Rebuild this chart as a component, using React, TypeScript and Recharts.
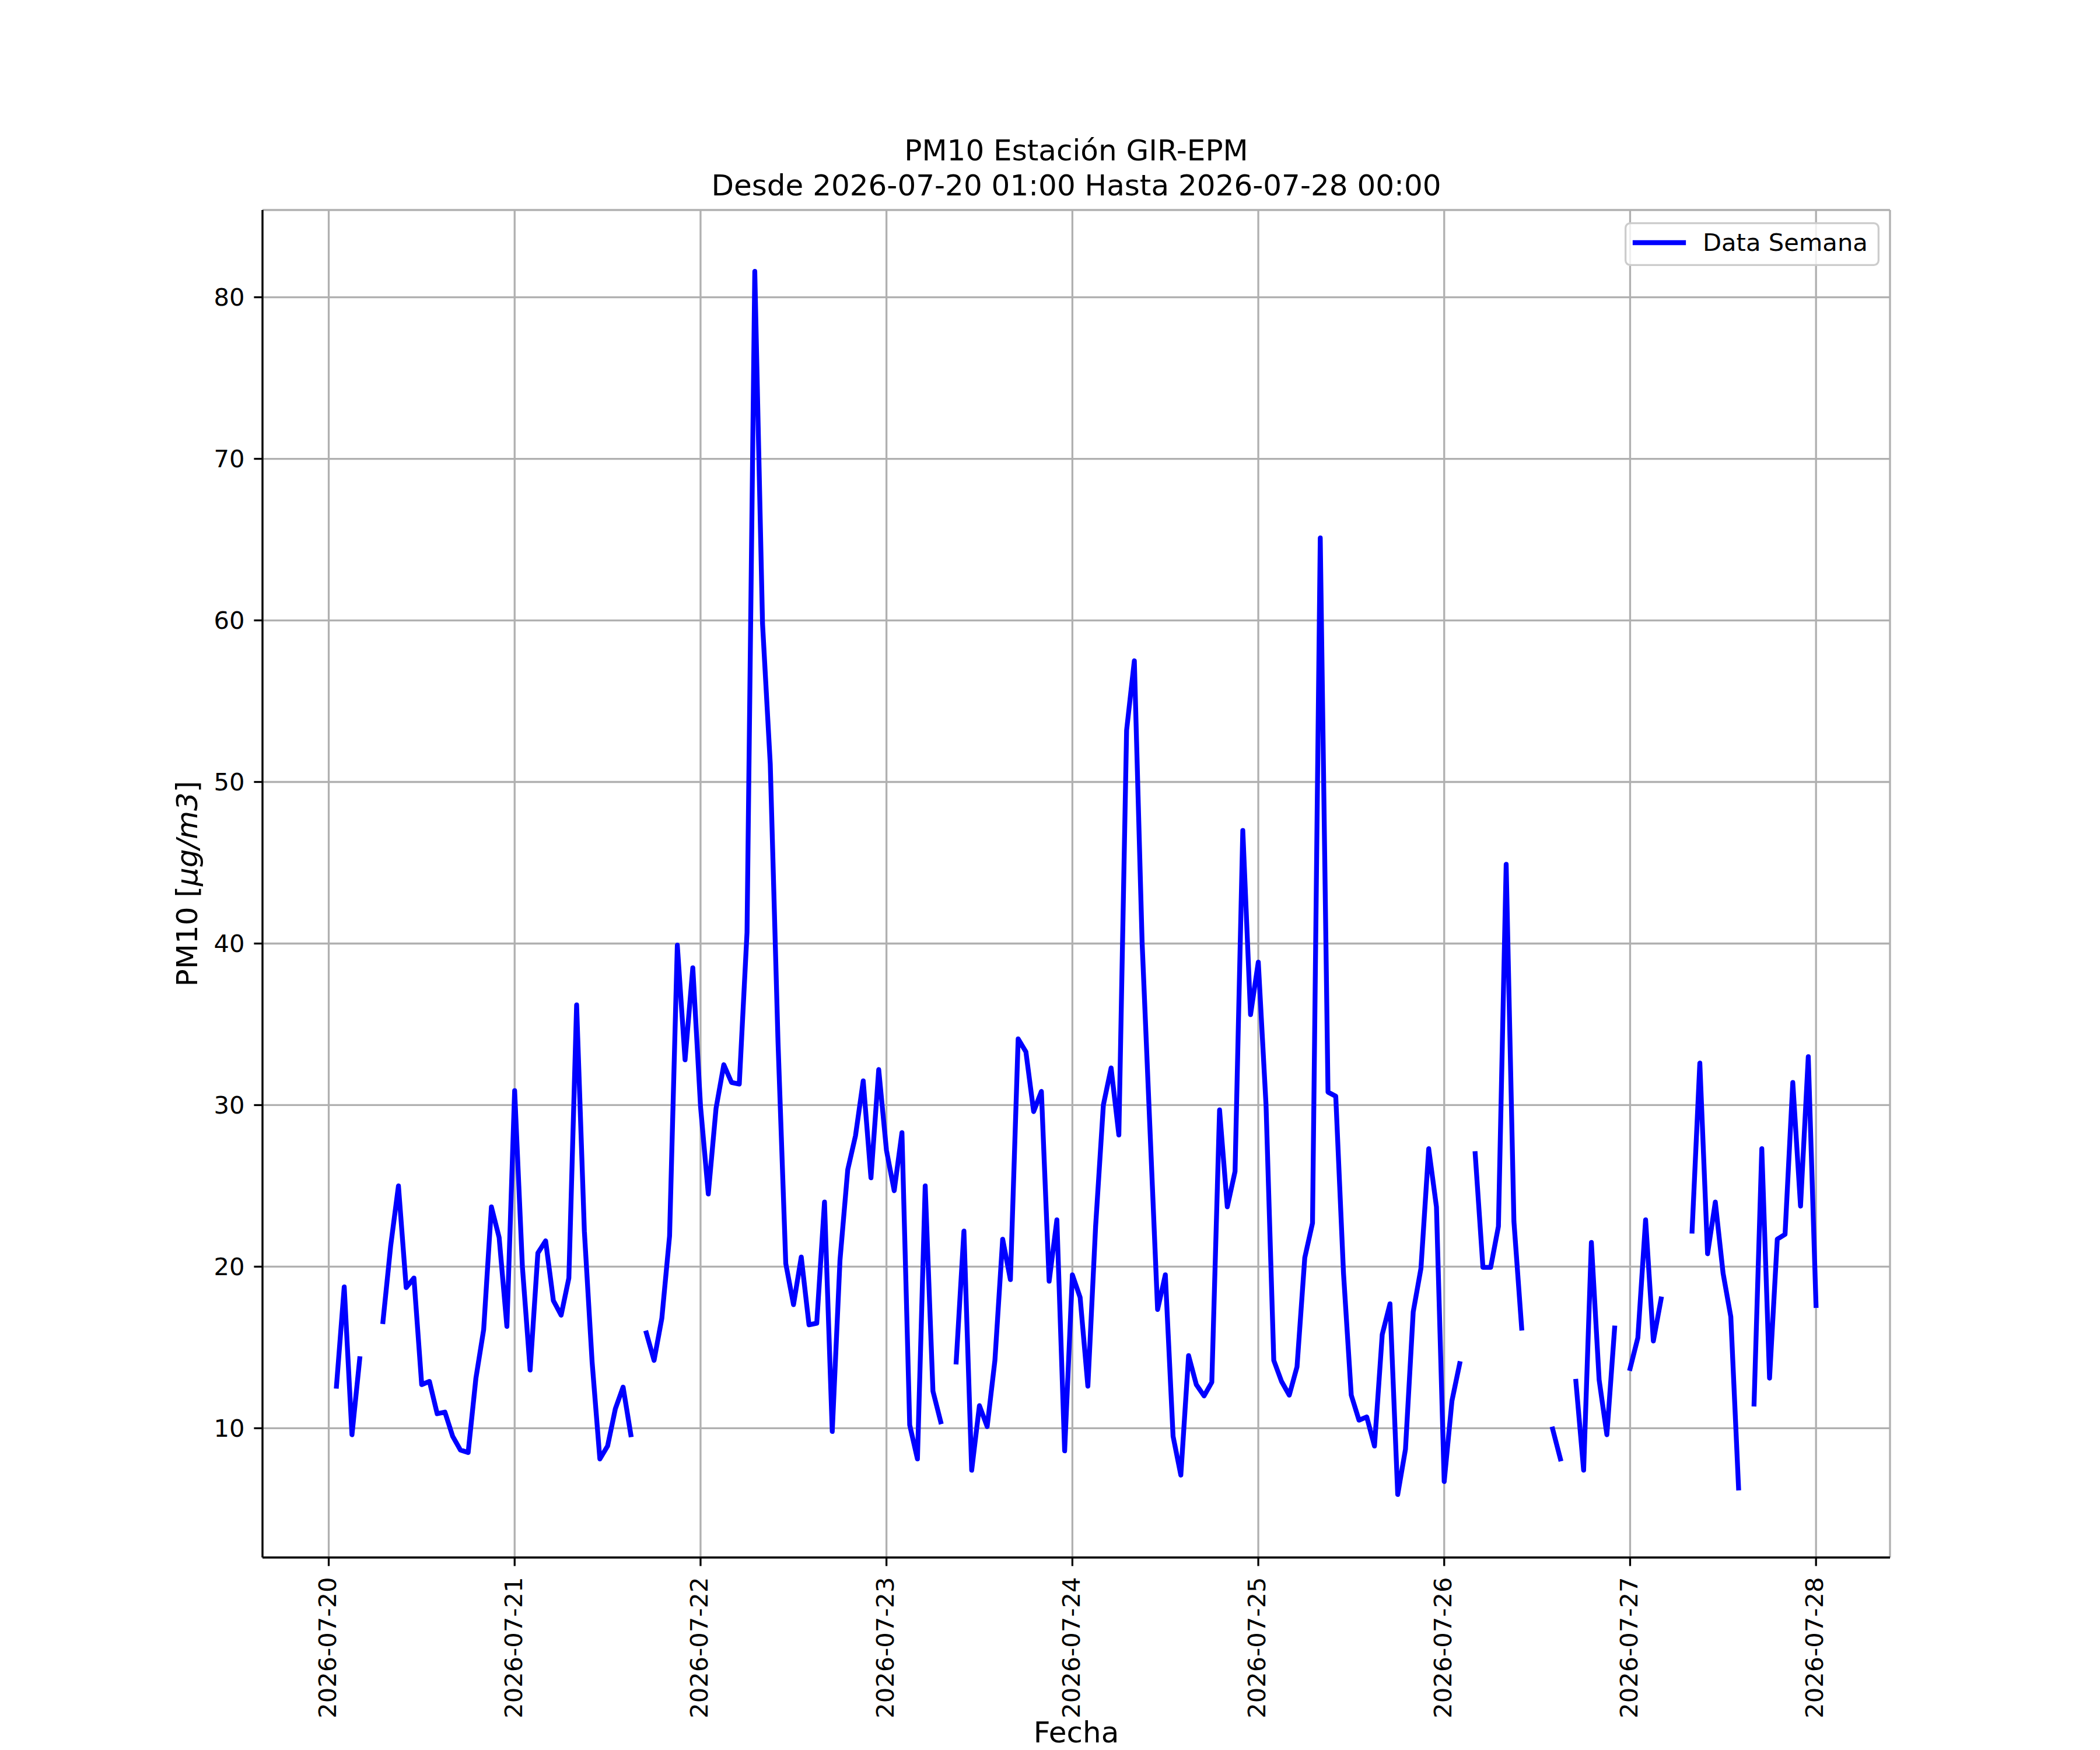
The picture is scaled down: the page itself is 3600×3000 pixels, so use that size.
import { LineChart, Line, XAxis, YAxis, CartesianGrid, Legend, Label } from 'recharts';

// PM10 hourly values, one array per day (01:00 .. 00:00 of next day); null = no data
const d20 = [12.6, 18.75, 9.6, 14.3, null, null, 16.6, 21.3, 25.0, 18.7, 19.3, 12.7, 12.9, 10.9, 11.0, 9.5, 8.65, 8.5, 13.1, 16.1, 23.7, 21.8, 16.3, 30.9];
const d21 = [20.0, 13.6, 20.85, 21.6, 17.9, 17.0, 19.3, 36.2, 22.2, 14.1, 8.1, 8.9, 11.2, 12.55, 9.6, null, 15.9, 14.2, 16.8, 21.9, 39.9, 32.8, 38.5, 29.9];
const d22 = [24.5, 29.8, 32.5, 31.4, 31.3, 40.7, 81.6, 59.8, 51.1, 33.9, 20.2, 17.65, 20.6, 16.4, 16.5, 24.0, 9.8, 20.4, 26.0, 28.1, 31.5, 25.5, 32.2, 27.2];
const d23 = [24.7, 28.3, 10.2, 8.1, 25.0, 12.3, 10.4, null, 14.1, 22.2, 7.4, 11.4, 10.1, 14.2, 21.7, 19.2, 34.1, 33.3, 29.6, 30.85, 19.1, 22.9, 8.6, 19.5];
const d24 = [18.1, 12.6, 22.5, 30.0, 32.3, 28.15, 53.2, 57.5, 40.1, 28.7, 17.35, 19.5, 9.5, 7.1, 14.5, 12.7, 12.0, 12.85, 29.7, 23.7, 25.9, 47.0, 35.6, 38.85];
const d25 = [30.0, 14.2, 12.9, 12.05, 13.8, 20.55, 22.7, 65.1, 30.8, 30.55, 19.6, 12.05, 10.5, 10.7, 8.9, 15.8, 17.7, 5.9, 8.7, 17.2, 19.9, 27.3, 23.7, 6.7];
const d26 = [11.7, 14.0, null, 27.0, 19.96, 19.96, 22.5, 44.9, 22.8, 16.2, null, null, null, 9.95, 8.1, null, 12.9, 7.4, 21.5, 13.0, 9.6, 16.2, null, 13.7];
const d27 = [15.6, 22.9, 15.4, 18.0, null, null, null, 22.2, 32.6, 20.8, 24.0, 19.6, 16.9, 6.3, null, 11.5, 27.3, 13.1, 21.7, 22.0, 31.4, 23.75, 33.0, 17.6];

const dias = ['2026-07-20', '2026-07-21', '2026-07-22', '2026-07-23', '2026-07-24', '2026-07-25', '2026-07-26', '2026-07-27', '2026-07-28'];
const yTicks = [10, 20, 30, 40, 50, 60, 70, 80];

const semana = [d20, d21, d22, d23, d24, d25, d26, d27];
// x = hours since 2026-07-20 00:00
const data = semana.flat().map((v, i) => ({ h: i + 1, pm10: v }));
const xTicks = dias.map((_, i) => i * 24);

const FONT = 'DejaVu Sans';
const xDomain = [-8.55, 201.55];
const yDomain = [2.0, 85.4];
const spine = { stroke: '#000', strokeWidth: 3.3 };

const DateTick = (props: any) => {
  const { x, y, payload } = props;
  return (
    <text x={x} y={y} dy={12.3} transform={`rotate(-90 ${x} ${y})`} textAnchor="end"
      fontSize={41.67} fontFamily={FONT} fill="#000">
      {dias[Math.round(payload.value / 24)]}
    </text>
  );
};

// title sits above the plot box (plot spans x 450..3240, top at 360)
const Titulo = () => (
  <text textAnchor="middle" fontSize={50} fontFamily={FONT} fill="#000">
    <tspan x={1845} y={275}>PM10 Estación GIR-EPM</tspan>
    <tspan x={1845} y={335}>Desde 2026-07-20 01:00 Hasta 2026-07-28 00:00</tspan>
  </text>
);

const Fecha = (props: any) => {
  const vb = props.viewBox || { x: 450, y: 2670, width: 2790 };
  return (
    <text x={vb.x + vb.width / 2} y={vb.y + 317} textAnchor="middle" fontSize={50} fontFamily={FONT} fill="#000">
      Fecha
    </text>
  );
};

const YLabel = (props: any) => {
  const vb = props.viewBox || { x: 350, y: 360, height: 2310 };
  const x = vb.x - 12;
  const y = vb.y + vb.height / 2;
  return (
    <text x={x} y={y} transform={`rotate(-90 ${x} ${y})`} textAnchor="middle" fontSize={50} fontFamily={FONT} fill="#000">
      <tspan>PM10 [</tspan>
      <tspan fontStyle="italic">μg/m3</tspan>
      <tspan>]</tspan>
    </text>
  );
};

const LegendBox = () => (
  <svg width={437} height={75} style={{ display: 'block' }}>
    <rect x={1.65} y={1.65} width={433.7} height={71.7} rx={8} fill="rgba(255,255,255,0.8)" stroke="#cccccc" strokeWidth={3.3} />
    <line x1={18} x2={101} y1={35} y2={35} stroke="#0000ff" strokeWidth={8.3} strokeLinecap="square" />
    <text x={134} y={49} fontSize={41.67} fontFamily={FONT} fill="#000">Data Semana</text>
  </svg>
);

export default function App() {
  return (
    <div style={{ position: 'absolute', left: 0, top: 0, width: 3600, height: 3000, background: '#fff' }}>
      <LineChart width={3600} height={3000} data={data} margin={{ top: 360, right: 360, bottom: 30, left: 350 }}>
        <CartesianGrid stroke="#b0b0b0" strokeWidth={3.3} />
        <XAxis dataKey="h" type="number" domain={xDomain} ticks={xTicks} interval={0} allowDataOverflow
          height={300} tickSize={14.6} tickMargin={19} tick={DateTick}
          axisLine={spine} tickLine={spine}>
          <Label content={Fecha} />
        </XAxis>
        <XAxis xAxisId="top" orientation="top" dataKey="h" type="number" domain={xDomain} allowDataOverflow
          height={0} tick={false} tickLine={false} axisLine={spine} />
        <YAxis type="number" domain={yDomain} ticks={yTicks} interval={0} allowDataOverflow
          width={100} tickSize={14.6} tickMargin={16}
          tick={{ fill: '#000', fontSize: 41.67, fontFamily: FONT }}
          axisLine={spine} tickLine={spine}>
          <Label content={YLabel} />
          <Label content={Titulo} />
        </YAxis>
        <YAxis yAxisId="right" orientation="right" type="number" domain={yDomain} allowDataOverflow
          width={0} tick={false} tickLine={false} axisLine={spine} />
        <Legend verticalAlign="middle" align="center" content={LegendBox}
          wrapperStyle={{ position: 'absolute', left: 2785, top: 381, width: 437, height: 75, margin: 0 }} />
        <Line type="linear" dataKey="pm10" name="Data Semana" stroke="#0000ff" strokeWidth={8.3}
          strokeLinejoin="round" strokeLinecap="square" dot={false} activeDot={false}
          connectNulls={false} isAnimationActive={false} />
      </LineChart>
    </div>
  );
}
